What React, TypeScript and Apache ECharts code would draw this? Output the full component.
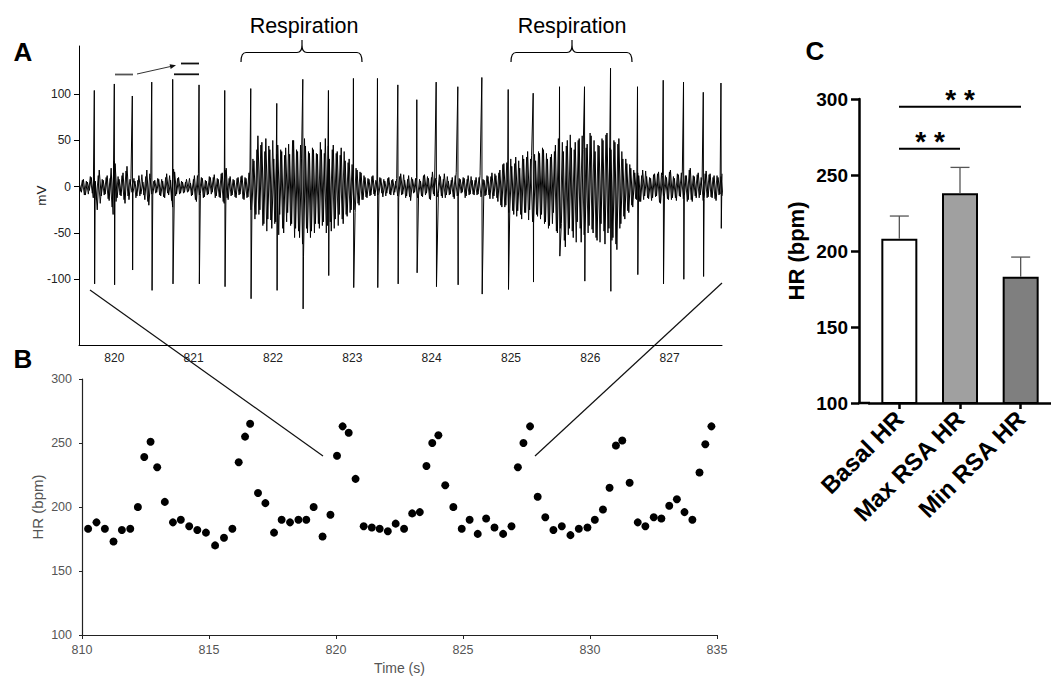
import React, { useEffect, useRef } from "react";
import * as echarts from "echarts";

// ---------- Panel A: ECG trace ----------
const ecgNoiseStart = 819.56;
const ecgNoiseStep = 0.025;
const ecgNoise = [
  3, -6, 8, -9, 5, -4, 10, -12, 6, -25, 18, -10, 7, -8, 12, -15, 20, -30, 25, -12, 8, -10, 15, -18, 22, -14, 9, -7, 6, -10, 12, -8, 5, -14, 18, -20, 10, -9, 7, -6,
  8, -10, 6, -12, 14, -9, 7, -22, 16, -8, 10, -7, 5, -6, 8, -5, 4, -9, 12, -16, 14, -7, 9, -11, 6, -8, 10, -6, 13, -10, 8, -12, 15, -18, 20, -14, 11, -9, 7, -12,
  10, -8, 12, -14, 9, -11, 18, -22, 28, -30, 55, -25, 48, -40, 52, -35, 40, -45, 30, -38, 45, -30, 38, -50, 42, -28, 35, -40, 50, -45, 38, -55, 30, -75, 44, -50, 36, -48, 40, -40,
  35, -45, 40, -38, 52, -42, 30, -48, 45, -35, 38, -30, 42, -40, 28, -32, 30, -25, 22, -28, 18, -20, 15, -14, 10, -12, 8, -9, 12, -10, 7, -8, 9, -11, 6, -7, 10, -9, 8, -6,
  9, -12, 14, -8, 7, -10, 12, -15, 8, -6, 10, -9, 6, -11, 13, -7, 9, -14, 16, -10, 8, -7, 11, -12, 14, -9, 6, -8, 10, -13, 15, -11, 8, -6, 9, -10, 12, -8, 7, -9,
  10, -8, 12, -11, 7, -9, 11, -13, 15, -10, 12, -16, 18, -22, 25, -20, 28, -24, 22, -30, 32, -26, 20, -35, 30, -28, 38, -25, 34, -40, 28, -32, 36, -30, 40, -38, 30, -42, 35, -28,
  45, -50, 55, -40, 38, -65, 50, -45, 42, -55, 48, -38, 52, -60, 40, -48, 46, -42, 55, -50, 38, -58, 44, -40, 50, -62, 58, -45, 40, -55, 48, -68, 52, -40, 30, -35, 25, -28, 20, -22,
  15, -14, 12, -16, 18, -10, 11, -13, 9, -12, 14, -10, 16, -18, 12, -9, 10, -14, 18, -12, 9, -15, 13, -11, 16, -10, 12, -14, 20, -16, 11, -12, 15, -9, 10, -13, 17, -11, 14, -12,
  12, -15, 10, -8, 14,
];
// second trace of the band, sampled half a step later
const ecgNoise2 = [
  -5, 7, -9, 6, -8, 11, -7, 9, -14, 12, -18, 8, -9, 10, -13, 9, -22, 28, -16, 11, -9, 12, -14, 17, -10, 8, -6, 9, -12, 7, -10, 13, -9, 11, -16, 14, -8, 6, -7, 9,
  -9, 8, -11, 10, -7, 12, -15, 19, -10, 9, -8, 6, -7, 5, -6, 9, -10, 8, -14, 12, -9, 10, -12, 7, -9, 11, -8, 10, -12, 9, -11, 14, -16, 18, -12, 9, -10, 8, -11, 9,
  -9, 11, -13, 10, -12, 15, -25, 30, -35, 40, -30, 45, -42, 38, -48, 44, -36, 50, -40, 35, -52, 40, -45, 34, -38, 46, -42, 50, -55, 40, -48, 45, -62, 52, -45, 38, -55, 42, -50, 36,
  -40, 48, -42, 36, -50, 44, -38, 40, -45, 36, -42, 34, -35, 38, -30, 26, -28, 24, -25, 20, -18, 16, -14, 12, -11, 9, -10, 11, -8, 7, -9, 10, -7, 8, -10, 9, -8, 7, -9, 6,
  -10, 11, -9, 13, -12, 8, -11, 10, -7, 9, -12, 8, -10, 12, -9, 11, -13, 10, -8, 9, -11, 13, -10, 8, -12, 11, -9, 7, -11, 12, -10, 9, -7, 10, -12, 8, -9, 11, -8, 7,
  -9, 10, -11, 8, -10, 12, -9, 11, -13, 14, -12, 15, -20, 24, -22, 26, -28, 30, -26, 25, -32, 28, -30, 34, -28, 32, -36, 30, -38, 35, -30, 38, -35, 42, -40, 36, -45, 32, -40, 38,
  -48, 52, -45, 48, -58, 44, -52, 56, -48, 40, -60, 50, -45, 55, -52, 42, -50, 58, -46, 50, -55, 45, -60, 52, -48, 56, -50, 42, -58, 50, -62, 46, -45, 38, -32, 30, -26, 24, -20, 18,
  -13, 15, -16, 12, -14, 17, -12, 10, -15, 13, -11, 14, -17, 15, -10, 12, -13, 16, -14, 11, -12, 14, -10, 15, -13, 12, -16, 18, -14, 12, -10, 13, -12, 10, -15, 14, -12, 13, -11, 10,
  -13, 12, -9, 11, -10,
];
const spikeTimes = [
  819.748, 820.0, 820.227, 820.472, 820.736, 821.068, 821.392, 821.72, 822.048, 822.376, 822.699, 823.014,
  823.317, 823.574, 823.813, 824.057, 824.33, 824.633, 824.965, 825.28, 825.612, 825.927, 826.255, 826.595,
  826.919, 827.175, 827.424, 827.647,
];
const spikeTops = [104, 111, 98, 113, 116, 110, 104, 106, 90, 116, 104, 117, 117, 110, 94, 113, 108, 118, 105, 101, 108, 108, 128, 108, 115, 113, 102, 112];
const spikeBottoms = [-105, -106, -90, -112, -105, -105, -108, -121, -112, -132, -96, -109, -109, -105, -93, -108, -106, -116, -111, -103, -75, -102, -113, -95, -105, -100, -97, -45];
const ecgXTicks = [820, 821, 822, 823, 824, 825, 826, 827];
const ecgYTicks = [-100, -50, 0, 50, 100];

// ---------- Panel B: HR over time ----------
const hrTimes = [
  810.24, 810.57, 810.9, 811.24, 811.57, 811.9, 812.2, 812.45, 812.7, 812.96, 813.26, 813.58, 813.89, 814.22, 814.54, 814.88,
  815.24, 815.59, 815.92, 816.17, 816.42, 816.62, 816.93, 817.22, 817.56, 817.86, 818.19, 818.52, 818.83, 819.12, 819.47, 819.78,
  820.04, 820.26, 820.5, 820.77, 821.09, 821.41, 821.72, 822.04, 822.35, 822.68, 823.0, 823.3, 823.56, 823.79, 824.03, 824.3,
  824.62, 824.95, 825.26, 825.58, 825.91, 826.24, 826.58, 826.91, 827.16, 827.38, 827.64, 827.94, 828.24, 828.56, 828.89, 829.23,
  829.56, 829.9, 830.19, 830.51, 830.77, 831.02, 831.27, 831.56, 831.88, 832.18, 832.51, 832.81, 833.12, 833.42, 833.72, 834.03,
  834.31, 834.54, 834.78,
];
const hrValues = [
  183, 188, 183, 173, 182, 183, 200, 239, 251, 231, 204, 188, 190, 185, 182, 180,
  170, 176, 183, 235, 255, 265, 211, 203, 180, 190, 188, 190, 190, 200, 177, 194,
  240, 263, 258, 222, 185, 184, 183, 181, 187, 183, 195, 196, 232, 250, 256, 217,
  200, 183, 190, 179, 191, 184, 179, 185, 231, 250, 263, 208, 192, 182, 185, 178,
  183, 184, 190, 198, 215, 248, 252, 219, 188, 185, 192, 191, 201, 206, 196, 190,
  227, 249, 263,
];

// ---------- Panel C: bars ----------
const barCategories = ["Basal HR", "Max RSA HR", "Min RSA HR"];
const barMeans = [208, 238, 183];
const barErrors = [15, 17, 13];
const barColors = ["#ffffff", "#a0a0a0", "#7f7f7f"];

const FONT = "'Liberation Sans', Arial, Helvetica, sans-serif";

echarts.graphic.registerShape(
  "brace1",
  echarts.graphic.extendPath(
    "M241,62 Q241,52.5 246,52.5 L297,52.5 Q302,52.5 302,45 L302,40 M302,45 Q302,52.5 307,52.5 L357,52.5 Q362,52.5 362,62",
    {}
  )
);
echarts.graphic.registerShape(
  "brace2",
  echarts.graphic.extendPath(
    "M511,62 Q511,52.5 516,52.5 L567,52.5 Q572,52.5 572,45 L572,40 M572,45 Q572,52.5 577,52.5 L627,52.5 Q632,52.5 632,62",
    {}
  )
);

function buildEcg(): [number, number][] {
  const pts: [number, number][] = ecgNoise.map((v, i) => [ecgNoiseStart + i * ecgNoiseStep, v]);
  spikeTimes.forEach((t, i) => {
    pts.push([t, spikeTops[i]]);
    pts.push([t + 0.004, spikeBottoms[i]]);
  });
  pts.sort((a, b) => a[0] - b[0]);
  return pts;
}
function buildEcg2(): [number, number][] {
  return ecgNoise2.map((v, i) => [ecgNoiseStart + ecgNoiseStep / 2 + i * ecgNoiseStep, v]);
}

function txt(text: string, x: number, y: number, size: number, weight = "normal", color = "#000") {
  return {
    type: "text",
    x,
    y,
    style: { text, fontSize: size, fontWeight: weight, fontFamily: FONT, fill: color, align: "center", verticalAlign: "middle" },
  };
}
function ln(x1: number, y1: number, x2: number, y2: number, w: number, color = "#000") {
  return { type: "line", shape: { x1, y1, x2, y2 }, style: { stroke: color, lineWidth: w } };
}

export default function App() {
  const ref = useRef<HTMLDivElement>(null);
  useEffect(() => {
    if (!ref.current) return;
    const chart = echarts.init(ref.current, undefined, { renderer: "svg" });
    const option: any = {
      animation: false,
      textStyle: { fontFamily: FONT },
      grid: [
        { left: 79, top: 46, width: 643, height: 299 },
        { left: 82, top: 379, width: 635, height: 256 },
        { left: 869, top: 99, width: 182, height: 304 },
      ],
      xAxis: [
        {
          gridIndex: 0,
          type: "value",
          min: 819.555,
          max: 827.66,
          axisLine: { show: true, onZero: false, lineStyle: { color: "#000", width: 1 } },
          axisTick: { show: false },
          splitLine: { show: false },
          axisLabel: { customValues: ecgXTicks, margin: 7, fontSize: 12, color: "#222", fontFamily: FONT },
        },
        {
          gridIndex: 1,
          type: "value",
          min: 810,
          max: 835,
          interval: 5,
          axisLine: { show: true, onZero: false, lineStyle: { color: "#222", width: 1.2 } },
          axisTick: { show: true, length: 4, lineStyle: { color: "#222" } },
          splitLine: { show: false },
          axisLabel: { margin: 8, fontSize: 12.5, color: "#555", fontFamily: FONT },
          name: "Time (s)",
          nameLocation: "middle",
          nameGap: 26,
          nameMoveOverlap: false,
          nameTextStyle: { fontSize: 14, color: "#555", fontFamily: FONT },
        },
        {
          gridIndex: 2,
          type: "category",
          data: barCategories,
          axisLine: { show: true, lineStyle: { color: "#000", width: 2.5 } },
          axisTick: { show: true, alignWithLabel: true, length: 6, lineStyle: { color: "#000", width: 2.5 } },
          axisLabel: { rotate: 45, interval: 0, fontSize: 24, fontWeight: "bold", color: "#000", margin: 12, fontFamily: FONT },
        },
      ],
      yAxis: [
        {
          gridIndex: 0,
          type: "value",
          min: -171,
          max: 152,
          axisLine: { show: true, onZero: false, lineStyle: { color: "#000", width: 1 } },
          axisTick: { show: true, length: 5, customValues: ecgYTicks, lineStyle: { color: "#000" } },
          splitLine: { show: false },
          axisLabel: { customValues: ecgYTicks, margin: 8, fontSize: 12, color: "#222", fontFamily: FONT },
          name: "mV",
          nameLocation: "middle",
          nameGap: 31,
          nameMoveOverlap: false,
          nameTextStyle: { fontSize: 13.5, color: "#222", fontFamily: FONT },
        },
        {
          gridIndex: 1,
          type: "value",
          min: 100,
          max: 300,
          interval: 50,
          axisLine: { show: true, onZero: false, lineStyle: { color: "#222", width: 1.2 } },
          axisTick: { show: true, length: 3, lineStyle: { color: "#222" } },
          splitLine: { show: false },
          axisLabel: { margin: 10, fontSize: 12.5, color: "#555", fontFamily: FONT },
          name: "HR (bpm)",
          nameLocation: "middle",
          nameGap: 37,
          nameMoveOverlap: false,
          nameTextStyle: { fontSize: 15, color: "#555", fontFamily: FONT },
        },
        {
          gridIndex: 2,
          type: "value",
          min: 100,
          max: 300,
          interval: 50,
          offset: 10,
          axisLine: { show: true, onZero: false, lineStyle: { color: "#000", width: 2.5 } },
          axisTick: { show: true, length: 8, lineStyle: { color: "#000", width: 2.5 } },
          splitLine: { show: false },
          axisLabel: { margin: 11, fontSize: 19, fontWeight: "bold", color: "#000", fontFamily: FONT },
          name: "HR (bpm)",
          nameLocation: "middle",
          nameGap: 52,
          nameMoveOverlap: false,
          nameTextStyle: { fontSize: 22, fontWeight: "bold", color: "#000", fontFamily: FONT },
        },
      ],
      series: [
        {
          type: "line",
          xAxisIndex: 0,
          yAxisIndex: 0,
          data: buildEcg2(),
          showSymbol: false,
          symbol: "none",
          silent: true,
          lineStyle: { color: "#000", width: 0.9 },
        },
        {
          type: "line",
          xAxisIndex: 0,
          yAxisIndex: 0,
          data: buildEcg(),
          showSymbol: false,
          symbol: "none",
          silent: true,
          lineStyle: { color: "#000", width: 1 },
        },
        {
          type: "scatter",
          xAxisIndex: 1,
          yAxisIndex: 1,
          data: hrTimes.map((t, i) => [t, hrValues[i]]),
          symbolSize: 8,
          itemStyle: { color: "#000", opacity: 1 },
          silent: true,
        },
        {
          type: "bar",
          xAxisIndex: 2,
          yAxisIndex: 2,
          barWidth: 36,
          data: barMeans.map((v, i) => ({ value: v, itemStyle: { color: barColors[i] } })),
          itemStyle: { borderColor: "#000", borderWidth: 2 },
          silent: true,
        },
        {
          type: "custom",
          xAxisIndex: 2,
          yAxisIndex: 2,
          z: 3,
          silent: true,
          data: barMeans.map((m, i) => [i, m, m + barErrors[i]]),
          renderItem: (_p: any, api: any) => {
            const base = api.coord([api.value(0), api.value(1)]);
            const top = api.coord([api.value(0), api.value(2)]);
            const hw = 9.5;
            return {
              type: "group",
              children: [
                { type: "line", shape: { x1: base[0], y1: base[1], x2: top[0], y2: top[1] }, style: { stroke: "#555", lineWidth: 1.3 } },
                { type: "line", shape: { x1: top[0] - hw, y1: top[1], x2: top[0] + hw, y2: top[1] }, style: { stroke: "#555", lineWidth: 1.3 } },
              ],
            };
          },
        },
      ],
      graphic: [
        txt("A", 23, 52, 26, "bold"),
        txt("B", 23, 359, 26, "bold"),
        txt("C", 815, 51, 26, "bold"),
        txt("Respiration", 304, 26, 21.5),
        txt("Respiration", 572, 26, 21.5),
        { type: "brace1", x: 0, y: 0, style: { fill: "none", stroke: "#000", lineWidth: 1.2 } },
        { type: "brace2", x: 0, y: 0, style: { fill: "none", stroke: "#000", lineWidth: 1.2 } },
        ln(90, 290, 323, 456, 1.2, "#111"),
        ln(722, 283, 535, 456, 1.2, "#111"),
        ln(115, 74.5, 133, 74.5, 1.8, "#555"),
        ln(137, 74, 171, 66.4, 1, "#333"),
        { type: "polygon", shape: { points: [[176, 65.3], [170.7, 69.0], [169.6, 64.2]] }, style: { fill: "#111" } },
        ln(181, 63.5, 199, 63.5, 1.8, "#111"),
        ln(174, 74.3, 199, 74.3, 1.8, "#111"),
        ln(858, 403, 870, 403, 2.5, "#000"),
        ln(899, 106.7, 1021, 106.7, 2, "#000"),
        ln(899, 148.7, 960, 148.7, 2, "#000"),
        txt("* *", 960, 99.5, 28, "bold"),
        txt("* *", 930, 141.5, 28, "bold"),
      ],
    };
    chart.setOption(option);
    return () => chart.dispose();
  }, []);
  return <div ref={ref} style={{ position: "absolute", left: 0, top: 0, width: 1051, height: 676, background: "#fff" }} />;
}
